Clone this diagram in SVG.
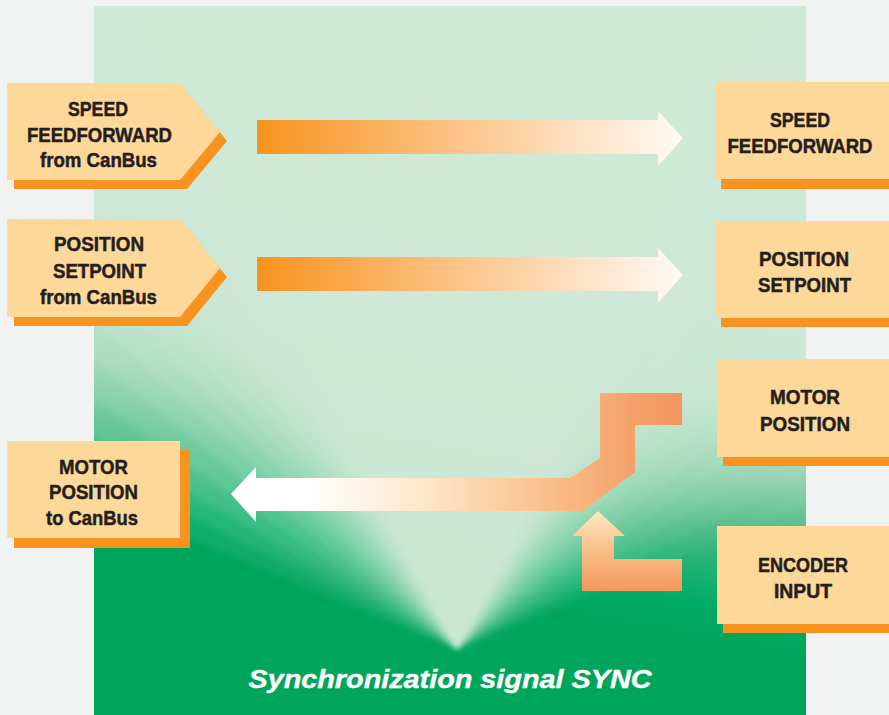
<svg xmlns="http://www.w3.org/2000/svg" width="889" height="715" viewBox="0 0 889 715">
<defs>
<style>
.box{fill:#fed898}
.shadow{fill:#f7931e}
.lbl{font-family:"Liberation Sans Narrow","Liberation Sans",Arial,sans-serif;font-weight:bold;font-size:21px;fill:#231f20;stroke:#231f20;stroke-width:0.5;text-anchor:middle}
.sync{font-family:"Liberation Sans Narrow","Liberation Sans",Arial,sans-serif;font-weight:bold;font-style:italic;font-size:26px;fill:#ffffff;stroke:#ffffff;stroke-width:0.4;text-anchor:middle}
.cone{fill:#cfe8d8}
</style>
<linearGradient id="panelGrad" gradientUnits="userSpaceOnUse" x1="490" y1="250" x2="430" y2="590">
<stop offset="0" stop-color="#cde7d6"/>
<stop offset="0.3" stop-color="#bfe2cc"/>
<stop offset="0.5" stop-color="#8fd0ab"/>
<stop offset="0.7" stop-color="#3fb780"/>
<stop offset="0.9" stop-color="#00ac66"/>
<stop offset="1" stop-color="#00a55c"/>
</linearGradient>
<linearGradient id="rightArrow" gradientUnits="userSpaceOnUse" x1="257" y1="0" x2="683" y2="0">
<stop offset="0" stop-color="#f7931e"/>
<stop offset="0.5" stop-color="#fcc78e"/>
<stop offset="1" stop-color="#fffaf6"/>
</linearGradient>
<linearGradient id="leftArrow" gradientUnits="userSpaceOnUse" x1="231" y1="0" x2="682" y2="0">
<stop offset="0" stop-color="#ffffff"/>
<stop offset="0.17" stop-color="#ffffff"/>
<stop offset="0.45" stop-color="#fde4c4"/>
<stop offset="0.75" stop-color="#f9b880"/>
<stop offset="0.9" stop-color="#f4a068"/>
<stop offset="1" stop-color="#f2955f"/>
</linearGradient>
<linearGradient id="upArrow" gradientUnits="userSpaceOnUse" x1="0" y1="511" x2="0" y2="591">
<stop offset="0" stop-color="#fde8c4"/>
<stop offset="0.5" stop-color="#f9bf85"/>
<stop offset="1" stop-color="#f4985f"/>
</linearGradient>
<clipPath id="panelClip"><rect x="94" y="6" width="712" height="709"/></clipPath>
<filter id="soft" filterUnits="userSpaceOnUse" x="-200" y="-200" width="1300" height="1100">
<feGaussianBlur stdDeviation="2.5"/>
</filter>
</defs>

<rect x="0" y="0" width="889" height="715" fill="#f1f2f2"/>

<g id="panel">
<rect x="94" y="6" width="712" height="709" fill="url(#panelGrad)"/>
<g clip-path="url(#panelClip)">
<g filter="url(#soft)">
<polygon class="cone" opacity="0.08" points="457,650 -1103,0 2017,0"/>
<polygon class="cone" opacity="0.1" points="457,650 -843,0 1757,0"/>
<polygon class="cone" opacity="0.12" points="457,650 -648,0 1562,0"/>
<polygon class="cone" opacity="0.14" points="457,650 -486,0 1400,0"/>
<polygon class="cone" opacity="0.16" points="457,650 -356,0 1270,0"/>
<polygon class="cone" opacity="0.18" points="457,650 -258,0 1172,0"/>
<polygon class="cone" opacity="0.2" points="457,650 -180,0 1094,0"/>
<polygon class="cone" opacity="0.22" points="457,650 -115,0 1029,0"/>
<polygon class="cone" opacity="0.25" points="457,650 -63,0 977,0"/>
<polygon class="cone" opacity="0.28" points="457,650 -18,0 932,0"/>
<polygon class="cone" opacity="0.3" points="457,650 21,0 893,0"/>
<polygon class="cone" opacity="0.35" points="457,650 54,0 860,0"/>
<polygon class="cone" opacity="0.4" points="457,650 86,0 828,0"/>
<polygon class="cone" opacity="0.45" points="457,650 119,0 795,0"/>
</g>
</g>
</g>

<g id="connectors">
<polygon id="arrow-speed" fill="url(#rightArrow)" points="257,120 658,120 658,111 683,138 658,166 658,154 257,154"/>
<polygon id="arrow-position" fill="url(#rightArrow)" points="257,257 658,257 658,248 683,275 658,303 658,291 257,291"/>
<polygon id="arrow-motor" fill="url(#leftArrow)" points="231,494 256,467 256,478 570,478 600,458 600,393 682,393 682,425 635,425 635,472 583,511 256,511 256,522"/>
<polygon id="arrow-encoder" fill="url(#upArrow)" points="598,511 625,536 614,536 614,559 682,559 682,591 582,591 582,536 572,536"/>
</g>

<g id="in-speed">
<polygon class="shadow" points="14,92 187,92 227,141 187,189 14,189"/>
<polygon class="box" points="7,83 180,83 220,132 180,180 7,180"/>
<text class="lbl" x="98" y="116" textLength="60" lengthAdjust="spacingAndGlyphs">SPEED</text>
<text class="lbl" x="99.5" y="142" textLength="145" lengthAdjust="spacingAndGlyphs">FEEDFORWARD</text>
<text class="lbl" x="98.5" y="167" textLength="117" lengthAdjust="spacingAndGlyphs">from CanBus</text>
</g>

<g id="in-position">
<polygon class="shadow" points="14,228 187,228 227,277 187,326 14,326"/>
<polygon class="box" points="7,219 180,219 220,268 180,317 7,317"/>
<text class="lbl" x="99" y="251" textLength="90" lengthAdjust="spacingAndGlyphs">POSITION</text>
<text class="lbl" x="99.5" y="278" textLength="93" lengthAdjust="spacingAndGlyphs">SETPOINT</text>
<text class="lbl" x="98.5" y="304" textLength="117" lengthAdjust="spacingAndGlyphs">from CanBus</text>
</g>

<g id="out-motor-canbus">
<rect class="shadow" x="14" y="450" width="176" height="98"/>
<rect class="box" x="7" y="441" width="173" height="97"/>
<text class="lbl" x="93.5" y="474" textLength="69" lengthAdjust="spacingAndGlyphs">MOTOR</text>
<text class="lbl" x="93.5" y="499" textLength="89" lengthAdjust="spacingAndGlyphs">POSITION</text>
<text class="lbl" x="92" y="525" textLength="92" lengthAdjust="spacingAndGlyphs">to CanBus</text>
</g>

<g id="out-speed">
<rect class="shadow" x="721" y="91" width="180" height="98"/>
<rect class="box" x="715" y="82" width="174" height="97"/>
<text class="lbl" x="800" y="127" textLength="60" lengthAdjust="spacingAndGlyphs">SPEED</text>
<text class="lbl" x="800" y="153" textLength="145" lengthAdjust="spacingAndGlyphs">FEEDFORWARD</text>
</g>

<g id="out-position">
<rect class="shadow" x="721" y="230" width="180" height="97"/>
<rect class="box" x="715" y="221" width="174" height="97"/>
<text class="lbl" x="804" y="266" textLength="90" lengthAdjust="spacingAndGlyphs">POSITION</text>
<text class="lbl" x="804.5" y="292" textLength="93" lengthAdjust="spacingAndGlyphs">SETPOINT</text>
</g>

<g id="motor-position">
<rect class="shadow" x="723" y="368" width="180" height="98"/>
<rect class="box" x="717" y="359" width="175" height="98"/>
<text class="lbl" x="805" y="404" textLength="70" lengthAdjust="spacingAndGlyphs">MOTOR</text>
<text class="lbl" x="805" y="431" textLength="90" lengthAdjust="spacingAndGlyphs">POSITION</text>
</g>

<g id="encoder-input">
<rect class="shadow" x="723" y="535" width="180" height="98"/>
<rect class="box" x="717" y="526" width="175" height="98"/>
<text class="lbl" x="803" y="572" textLength="90" lengthAdjust="spacingAndGlyphs">ENCODER</text>
<text class="lbl" x="803" y="598" textLength="58" lengthAdjust="spacingAndGlyphs">INPUT</text>
</g>

<g id="sync-label">
<text class="sync" x="450" y="688" textLength="403" lengthAdjust="spacingAndGlyphs">Synchronization signal SYNC</text>
</g>
</svg>
